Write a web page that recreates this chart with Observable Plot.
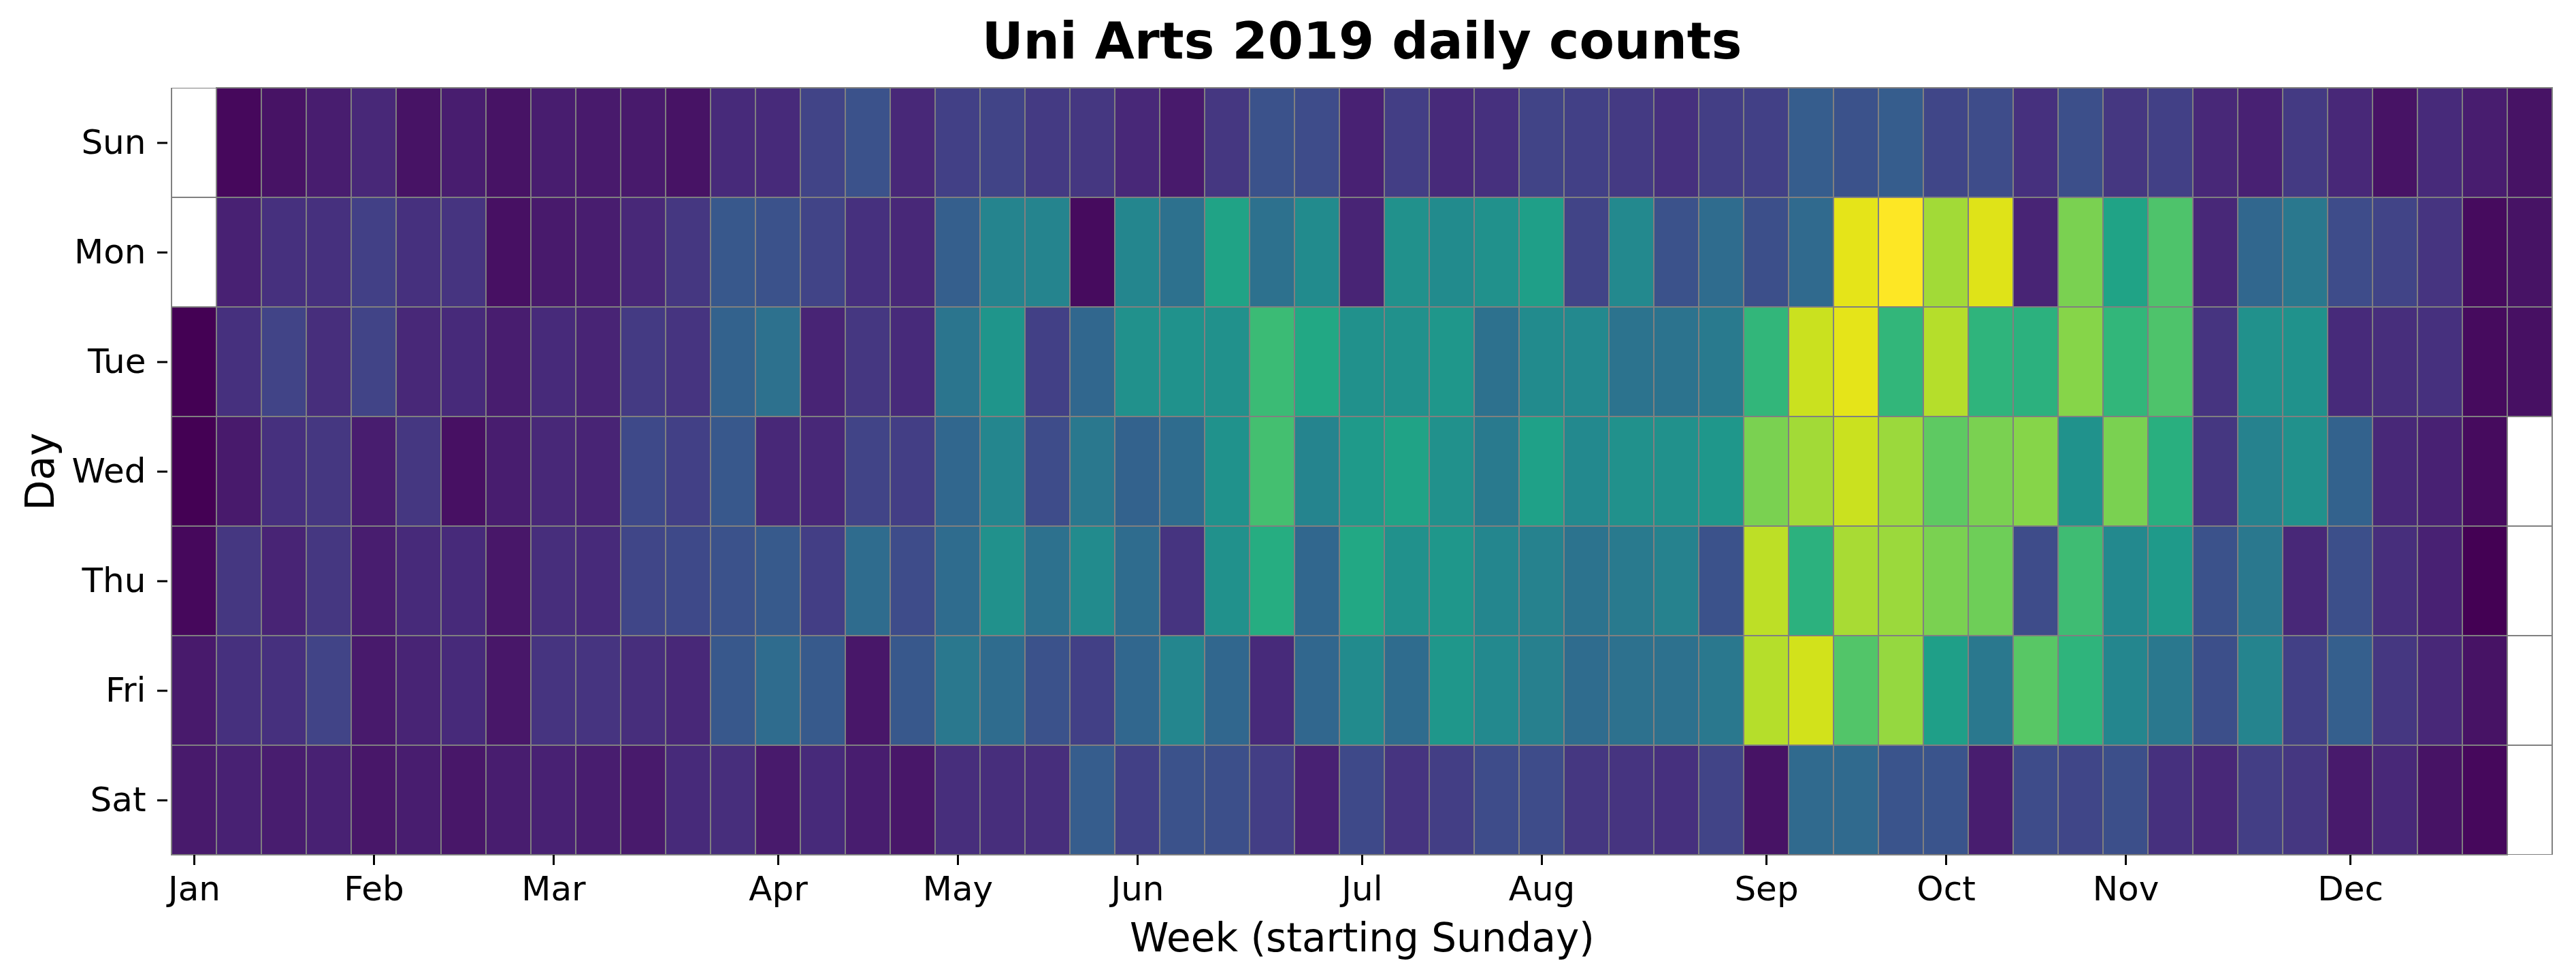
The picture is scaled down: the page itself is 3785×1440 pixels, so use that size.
<!DOCTYPE html>
<html>
<head>
<meta charset="utf-8">
<script src="https://cdn.jsdelivr.net/npm/d3@7"></script>
<script src="https://cdn.jsdelivr.net/npm/@observablehq/plot@0.6"></script>
<style>
  html, body { margin: 0; padding: 0; background: white; }
  #title {
    width: 3785px; height: 128px; box-sizing: border-box;
    padding-left: 246px; padding-right: 29px;
    text-align: center; font-family: "DejaVu Sans", sans-serif;
    font-weight: bold; font-size: 75px; line-height: 120px; color: black;
    overflow: hidden;
  }
  #chart svg { display: block; }
</style>
</head>
<body>
<div id="title">Uni Arts 2019 daily counts</div>
<div id="chart"></div>
<script>
// Daily counts, one array per weekday, 53 weeks (weeks start Sunday, first week starts 2018-12-30)
const days = ["Sun", "Mon", "Tue", "Wed", "Thu", "Fri", "Sat"];
const sun = [null, 2,5,8,11,5,8,5,8, 7,7,5,12,12,20,25,11,19, 20,17,16,11,7,16,25,23,9, 18,12,14,20,19,17,14,18,19, 29,25,29,21,23,14,24,16,19, 11,9,17,11,5,12,8,5];
const mon = [null, 9,14,14,19,14,15,4,7, 8,11,16,27,25,20,14,11,30, 45,45,3,46,37,58,37,48,10, 50,48,50,56,20,47,25,35,24, 34,96,100,86,95,10,80,58,72, 11,33,40,23,20,15,3,5];
const tue = [0, 14,20,13,20,11,12,8,12, 10,17,15,31,37,10,16,12,39, 52,19,33,50,51,50,68,60,50, 50,53,37,48,47,38,38,41,66, 92,96,66,89,65,64,82,66,72, 15,50,51,12,13,14,3,4];
const wed = [0, 7,14,16,8,16,4,8,11, 10,22,19,27,11,11,20,18,33, 46,23,40,31,35,51,70,45,54, 58,50,41,57,47,50,50,53,80, 86,92,85,75,80,82,51,80,63, 16,44,50,31,11,9,3,null];
const thu = [2, 16,10,16,8,12,12,6,13, 12,21,22,25,28,18,35,23,35, 50,37,48,35,15,50,62,33,60, 50,53,46,44,38,41,44,25,90, 64,87,85,80,78,23,69,47,54, 25,40,11,24,13,9,0,null];
const fri = [7, 14,14,20,7,10,12,6,15, 15,13,11,27,35,28,6,27,40, 35,25,19,33,46,33,12,33,48, 35,53,47,43,35,37,37,40,89, 93,73,84,56,40,74,65,46,40, 24,45,19,30,16,11,5,null];
const sat = [7, 9,8,9,6,8,6,8,9, 8,7,12,13,7,12,8,6,13, 13,13,29,19,25,24,18,9,22, 15,18,23,23,16,15,14,20,5, 34,34,26,26,8,23,21,24,14, 11,18,16,7,11,5,2,null];
const monthLabels = ["Jan","Feb","Mar","Apr","May","Jun","Jul","Aug","Sep","Oct","Nov","Dec"];
const xLabel = "Week (starting Sunday)";
const yLabel = "Day";

const series = [sun, mon, tue, wed, thu, fri, sat];
const nWeeks = sun.length;
const weeks = d3.range(nWeeks);
const grid = [];
const cells = [];
days.forEach((day, di) => {
  series[di].forEach((v, w) => {
    grid.push({week: w, day});
    if (v != null) cells.push({week: w, day, count: v});
  });
});

// month tick positions: week index containing the 1st of each month
const weekStart = d3.utcWeek.floor(new Date(Date.UTC(2019, 0, 1)));
const monthWeek = monthLabels.map((m, i) => d3.utcWeek.count(weekStart, new Date(Date.UTC(2019, i, 1))));
const labelByWeek = new Map(monthWeek.map((w, i) => [w, monthLabels[i]]));

const chart = Plot.plot({
  width: 3785,
  height: 1312,
  marginTop: 1,
  marginBottom: 184,
  marginLeft: 246,
  marginRight: 29,
  style: {fontFamily: "DejaVu Sans, sans-serif", fontSize: "50px", background: "white", color: "black"},
  x: {type: "band", domain: weeks, padding: 0, label: null},
  y: {type: "band", domain: days, padding: 0, label: null},
  color: {type: "linear", scheme: "viridis", domain: [0, 100]},
  marks: [
    Plot.cell(grid, {x: "week", y: "day", fill: "white", stroke: "#808080", strokeWidth: 2, clip: true}),
    Plot.cell(cells, {x: "week", y: "day", fill: "count", stroke: "#808080", strokeWidth: 2}),
    Plot.axisX(monthWeek, {tickSize: 15, tickPadding: 16, strokeWidth: 3, fontSize: 50, label: null, tickFormat: d => labelByWeek.get(d)}),
    Plot.axisY(days, {tickSize: 15, tickPadding: 17, strokeWidth: 3, fontSize: 50, label: null}),
    Plot.text([xLabel], {frameAnchor: "bottom", dy: 123, lineAnchor: "middle", textAnchor: "middle", fontSize: 58, text: d => d}),
    Plot.text([yLabel], {frameAnchor: "left", dx: -186, rotate: -90, lineAnchor: "middle", textAnchor: "middle", fontSize: 58, text: d => d})
  ]
});
document.getElementById("chart").appendChild(chart);
</script>
</body>
</html>
